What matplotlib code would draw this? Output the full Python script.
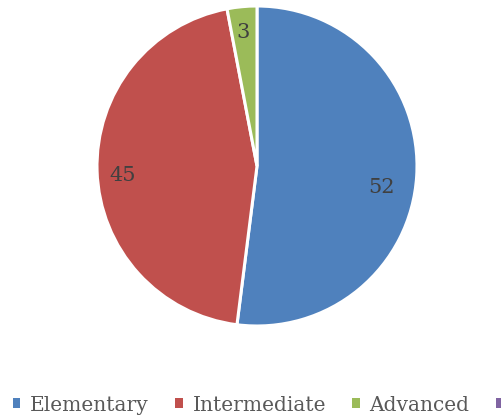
import numpy as np
import matplotlib
matplotlib.use("Agg")
from matplotlib import pyplot as plt
from matplotlib.patches import Patch

# level shares (fourth category has no share and no visible name)
levels = ["Elementary", "Intermediate", "Advanced", ""]
counts = [52, 45, 3, 0]
colors = ["#4F81BD", "#C0504D", "#9BBB59", "#8064A2"]

plt.rcParams['font.family'] = ['DejaVu Serif']

fig = plt.figure(figsize=(5.02, 4.19), dpi=100)
ax = fig.add_axes([0, 0, 1, 1])

cx, cy, r = 257, 419 - 166, 160
shown = [(v, c) for v, c in zip(counts, colors) if v > 0]
wedges, _ = ax.pie([v for v, c in shown], colors=[c for v, c in shown],
                   startangle=90, counterclock=False, center=(cx, cy), radius=r,
                   wedgeprops=dict(edgecolor='white', linewidth=2.2),
                   frame=True)
ax.set_xlim(0, 502)
ax.set_ylim(0, 419)
ax.set_aspect('equal')
ax.axis('off')

# label placement (distance as fraction of radius, angle tweak in degrees)
tweaks = [(0.79, -6.4), (0.84, 2.4), (0.84, 0.6)]
for w, (v, c), (d, da) in zip(wedges, shown, tweaks):
    ang = np.deg2rad((w.theta1 + w.theta2) / 2 + da)
    ax.text(cx + d * r * np.cos(ang), cy + d * r * np.sin(ang), str(v),
            ha='center', va='center', fontsize=15, color='#404040')

handles = [Patch(facecolor=c, edgecolor='none') for c in colors]
fig.legend(handles, levels, loc='center left', bbox_to_anchor=(13 / 502, 1 - 405 / 419),
           ncol=4, frameon=False, fontsize=14.5, labelcolor='#595959',
           handlelength=0.36, handleheight=0.36, handletextpad=0.5,
           columnspacing=1.3, borderpad=0, borderaxespad=0)

fig.savefig("out.png", dpi=100)
